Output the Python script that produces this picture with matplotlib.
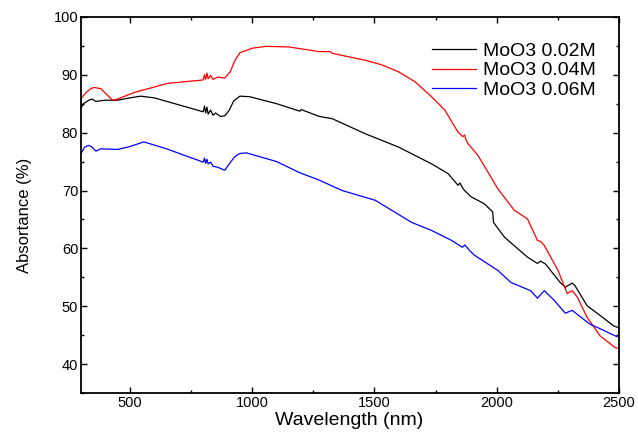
import matplotlib.pyplot as plt
from matplotlib.ticker import MultipleLocator

plt.rcParams['font.family'] = ['Liberation Sans', 'DejaVu Sans']

# absorptance spectra, wavelength (nm) vs absorptance (%)
wl_02 = [300, 310, 332, 345, 360, 400, 450, 500, 544, 600, 700, 800, 805, 810, 815, 820,
         830, 840, 850, 870, 888, 905, 925, 950, 990, 1100, 1195, 1200, 1274, 1328,
         1463, 1599, 1734, 1802, 1842, 1850, 1860, 1869, 1896, 1950, 1984, 1987, 2033,
         2126, 2167, 2180, 2200, 2260, 2281, 2309, 2320, 2370, 2430, 2479, 2500]
ab_02 = [84.2, 85.0, 85.6, 85.8, 85.4, 85.6, 85.6, 86.0, 86.3, 86.0, 84.8, 83.6, 84.6,
         83.4, 84.4, 83.2, 83.9, 83.0, 83.4, 82.8, 82.9, 83.8, 85.5, 86.3, 86.2, 85.0,
         83.7, 84.0, 82.8, 82.4, 79.8, 77.5, 74.6, 72.9, 70.9, 71.3, 70.5, 70.0, 68.9,
         67.7, 66.3, 64.5, 61.9, 58.5, 57.4, 57.8, 57.3, 54.1, 53.3, 54.0, 53.6, 50.1,
         48.2, 46.6, 46.3]

wl_04 = [300, 320, 340, 353, 381, 400, 429, 450, 515, 653, 800, 805, 810, 815, 820, 830,
         840, 860, 888, 910, 930, 950, 1002, 1058, 1150, 1274, 1320, 1328, 1463, 1531,
         1599, 1666, 1734, 1788, 1842, 1862, 1869, 1875, 1883, 1923, 1977, 2005, 2072,
         2126, 2167, 2180, 2195, 2250, 2289, 2309, 2330, 2370, 2423, 2484, 2500]
ab_04 = [85.9, 86.9, 87.6, 87.8, 87.6, 86.8, 85.6, 85.8, 86.9, 88.5, 89.1, 90.0, 89.2,
         90.3, 89.3, 89.9, 89.2, 89.6, 89.4, 90.5, 92.5, 93.8, 94.6, 94.9, 94.8, 94.0,
         94.0, 93.7, 92.5, 91.7, 90.5, 88.8, 86.2, 83.9, 80.1, 79.3, 79.6, 78.7, 78.1,
         76.1, 72.3, 70.3, 66.6, 65.1, 61.4, 61.2, 60.5, 56.3, 52.2, 52.7, 51.6, 48.1,
         44.9, 42.9, 42.7]

wl_06 = [300, 315, 332, 345, 361, 380, 450, 500, 557, 650, 800, 805, 810, 815, 820, 830,
         840, 860, 888, 910, 930, 950, 977, 1100, 1193, 1274, 1368, 1504, 1652, 1734,
         1815, 1860, 1870, 1890, 1910, 2005, 2059, 2139, 2167, 2195, 2236, 2281, 2309,
         2382, 2430, 2484, 2500]
ab_06 = [76.4, 77.5, 77.8, 77.5, 76.8, 77.2, 77.1, 77.6, 78.4, 77.2, 74.9, 75.6, 74.7,
         75.4, 74.6, 74.9, 74.2, 74.0, 73.5, 74.8, 75.9, 76.4, 76.5, 75.0, 73.1, 71.8,
         70.0, 68.3, 64.5, 63.1, 61.4, 60.2, 60.6, 59.6, 58.8, 56.2, 54.1, 52.7, 51.4,
         52.7, 51.0, 48.8, 49.3, 46.9, 46.0, 44.9, 44.7]

labels = ['MoO3 0.02M', 'MoO3 0.04M', 'MoO3 0.06M']
colors = ['black', 'red', 'blue']

fig = plt.figure(figsize=(6.38, 4.32), dpi=100)
ax = fig.add_axes([0.127, 0.090, 0.843, 0.871])

for wl, ab, lab, c in zip([wl_02, wl_04, wl_06], [ab_02, ab_04, ab_06], labels, colors):
    ax.plot(wl, ab, color=c, lw=0.9, label=lab)

ax.set_xlim(300, 2500)
ax.set_ylim(35, 100)
ax.xaxis.set_major_locator(MultipleLocator(500))
ax.xaxis.set_minor_locator(MultipleLocator(250))
ax.yaxis.set_major_locator(MultipleLocator(10))
ax.yaxis.set_minor_locator(MultipleLocator(5))
ax.tick_params(which='both', direction='in', top=True, right=True, labelsize=10.5,
               pad=2, width=1)
ax.tick_params(which='major', length=4)
ax.tick_params(which='minor', length=2)
for s in ax.spines.values():
    s.set_linewidth(1.3)

ax.set_xlabel('Wavelength (nm)', fontsize=14)
ax.xaxis.set_label_coords(0.499, -0.05)
ax.set_ylabel('Absortance (%)', fontsize=12)
ax.yaxis.set_label_coords(-0.091, 0.473)

ax.legend(loc='upper left', bbox_to_anchor=(0.652, 0.933), frameon=False, fontsize=14,
          handlelength=2.27, handletextpad=0.35, labelspacing=0.11, borderaxespad=0,
          borderpad=0)

fig.savefig('out.png', dpi=100)
